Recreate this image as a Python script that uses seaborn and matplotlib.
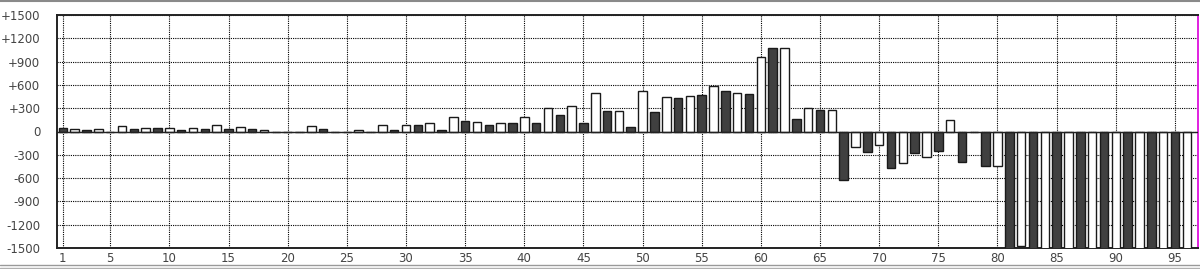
import numpy as np
import pandas as pd
import matplotlib
matplotlib.use("Agg")
import matplotlib.pyplot as plt
from matplotlib.lines import Line2D
import seaborn as sns

games = list(range(1, 97))
values = [
    50, 30, 15, 30, 0, 65, 30, 47, 47, 45,
    13, 45, 34, 82, 34, 62, 34, 13, 0, 0,
    0, 68, 30, 0, 0, 13, 0, 85, 13, 85,
    88, 105, 13, 185, 130, 125, 90, 107, 107, 185,
    112, 305, 210, 325, 112, 500, 270, 265, 55, 520,
    245, 445, 425, 460, 465, 590, 525, 495, 480, 960,
    1075, 1070, 165, 300, 272, 280, -620, -205, -270, -170,
    -465, -410, -275, -325, -250, 150, -390, 0, -445, -440,
    -2000, -1470, -2000, -2000, -2000, -2000, -2000, -2000, -2000, -2000,
    -2000, -2000, -2000, -2000, -2000, -2000,
]
xtick_labels = ["1", "5", "10", "15", "20", "25", "30", "35", "40", "45",
                "50", "55", "60", "65", "70", "75", "80", "85", "90", "95"]
ytick_values = [1500, 1200, 900, 600, 300, 0, -300, -600, -900, -1200, -1500]
ytick_labels = ["+1500", "+1200", "+900", "+600", "+300", "0",
                "-300", "-600", "-900", "-1200", "-1500"]

df = pd.DataFrame({
    "game": [str(g) for g in games],
    "value": values,
    "kind": ["odd" if g % 2 == 1 else "even" for g in games],
})

sns.set_style("white")
plt.rcParams["font.family"] = ["DejaVu Sans"]

fig = plt.figure(figsize=(12, 2.69), dpi=100)
ax = fig.add_axes([57 / 1200, 1 - 248 / 269, (1198 - 57) / 1200, (248 - 15) / 269])

sns.barplot(data=df, x="game", y="value", hue="kind", order=df["game"].tolist(),
            palette={"odd": "#404040", "even": "#ffffff"}, dodge=False,
            width=0.72, edgecolor="#1a1a1a", linewidth=1.0, legend=False, ax=ax,
            zorder=3)

ax.set_ylim(-1500, 1500)
ax.set_xlim(-0.5, 95.95)
ax.set_yticks(ytick_values)
ax.set_yticklabels(ytick_labels)
xpos = [int(t) - 1 for t in xtick_labels]
ax.set_xticks(xpos)
ax.set_xticklabels(xtick_labels)
ax.set_xlabel("")
ax.set_ylabel("")
ax.tick_params(axis="both", length=0, labelsize=8.5, labelcolor="#444444")
ax.tick_params(axis="y", pad=12)
ax.tick_params(axis="x", pad=3)

ax.grid(True, color="black", linestyle=(0, (1, 1)), linewidth=0.8, zorder=1)
ax.set_axisbelow(True)
ax.axhline(0, color="#222222", linewidth=1.0, zorder=4)

for side in ["left", "top", "bottom"]:
    ax.spines[side].set_color("#222222")
    ax.spines[side].set_linewidth(1.4)
    ax.spines[side].set_visible(True)
ax.spines["right"].set_color("#e020e0")
ax.spines["right"].set_linewidth(1.4)
ax.spines["right"].set_visible(True)

# frame lines of the image
fig.add_artist(Line2D([0, 1], [1 - 0.8 / 269, 1 - 0.8 / 269], color="#8a8a8a", linewidth=1.5))
fig.add_artist(Line2D([0, 1], [1 - 265 / 269, 1 - 265 / 269], color="#9a9a9a", linewidth=1.0))
fig.add_artist(Line2D([0, 1], [1 - 268 / 269, 1 - 268 / 269], color="#b0b0b0", linewidth=1.0))

fig.savefig("out.png", dpi=100, facecolor="white")
